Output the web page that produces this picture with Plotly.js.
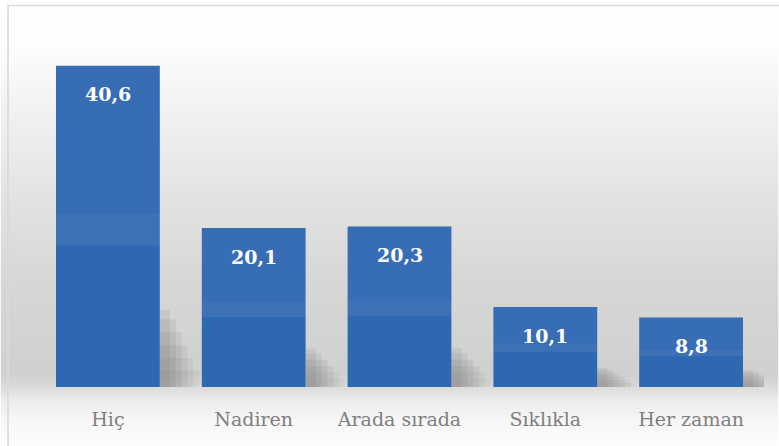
<!DOCTYPE html>
<html>
<head>
<meta charset="utf-8">
<script src="https://cdn.plot.ly/plotly-3.0.1.min.js"></script>
<style>html,body{margin:0;padding:0;background:#fff}#chart{width:779px;height:446px}</style>
</head>
<body>
<div id="chart"></div>
<script>
const categories = ['Hiç', 'Nadiren', 'Arada sırada', 'Sıklıkla', 'Her zaman'];
const values = [40.6, 20.1, 20.3, 10.1, 8.8];

const W = 779, H = 446;
const M = {l: 34.5, r: 14.5, t: 30, b: 59};
const plotW = W - M.l - M.r, plotH = H - M.t - M.b;

const barColor = '#2f68b2';
const barWidth = 0.712;
const traces = [];

// soft shadows behind the bars (layered to fake a blur)
const shadowLayers = [
  {w: 0.07, h: 0.24, c: 'rgba(90,90,90,0.11)'},
  {w: 0.11, h: 0.21, c: 'rgba(90,90,90,0.10)'},
  {w: 0.15, h: 0.17, c: 'rgba(90,90,90,0.10)'},
  {w: 0.19, h: 0.13, c: 'rgba(90,90,90,0.09)'},
  {w: 0.23, h: 0.09, c: 'rgba(90,90,90,0.07)'},
  {w: 0.27, h: 0.05, c: 'rgba(90,90,90,0.06)'}
];
shadowLayers.forEach(s => {
  traces.push({
    type: 'bar', x: categories, y: values.map(v => v * s.h),
    offset: barWidth / 2, width: s.w, marker: {color: s.c, line: {width: 0}},
    hoverinfo: 'skip', showlegend: false
  });
});

// main bars
traces.push({
  type: 'bar', x: categories, y: values, width: barWidth,
  marker: {color: barColor, line: {width: 0}},
  hoverinfo: 'x+y', showlegend: false
});
// upper lighter tint
traces.push({
  type: 'bar', x: categories, y: values.map(v => v * 0.46), base: values.map(v => v * 0.54), width: barWidth,
  marker: {color: 'rgba(255,255,255,0.04)', line: {width: 0}},
  hoverinfo: 'skip', showlegend: false
});
// reflection stripe
traces.push({
  type: 'bar', x: categories, y: values.map(v => v * 0.10), base: values.map(v => v * 0.44), width: barWidth,
  marker: {color: 'rgba(255,255,255,0.07)', line: {width: 0}},
  hoverinfo: 'skip', showlegend: false
});

const annotations = categories.map((c, i) => ({
  x: c, y: values[i], xref: 'x', yref: 'y',
  text: values[i].toFixed(1).replace('.', ','),
  showarrow: false, yshift: -28.5, yanchor: 'middle',
  font: {family: 'DejaVu Serif', size: 19, color: '#ffffff', weight: 'bold'}
}));

const bgSvg = `<svg xmlns="http://www.w3.org/2000/svg" width="${W}" height="${H}" viewBox="0 0 ${W} ${H}" preserveAspectRatio="none">
<defs><linearGradient id="g" x1="0" y1="0" x2="0" y2="1">
<stop offset="0" stop-color="#ffffff"/>
<stop offset="0.09" stop-color="#fefefe"/>
<stop offset="0.25" stop-color="#f1f1f1"/>
<stop offset="0.45" stop-color="#e2e3e1"/>
<stop offset="0.65" stop-color="#d6d7d5"/>
<stop offset="0.84" stop-color="#cfd1cf"/>
<stop offset="0.87" stop-color="#dcdcdb"/>
<stop offset="0.895" stop-color="#eaebea"/>
<stop offset="0.94" stop-color="#f6f6f6"/>
<stop offset="1" stop-color="#fdfdfd"/>
</linearGradient></defs>
<rect x="0" y="0" width="${W}" height="${H}" fill="url(#g)"/>
</svg>`;

const layout = {
  width: W, height: H,
  margin: M,
  paper_bgcolor: '#ffffff', plot_bgcolor: 'rgba(0,0,0,0)',
  barmode: 'overlay', bargap: 0.288,
  showlegend: false,
  font: {family: 'DejaVu Serif', color: '#808080'},
  xaxis: {
    type: 'category', range: [-0.5, categories.length - 0.5],
    showgrid: false, zeroline: false, showline: false,
    ticks: '', tickfont: {family: 'DejaVu Serif', size: 19, color: '#7f7f7f'},
    ticklabelstandoff: 19, fixedrange: true
  },
  yaxis: {
    range: [0, plotH / 7.91], visible: false, showgrid: false, zeroline: false, fixedrange: true
  },
  images: [{
    source: 'data:image/svg+xml;charset=utf-8,' + encodeURIComponent(bgSvg),
    xref: 'paper', yref: 'paper',
    x: -M.l / plotW, y: 1 + M.t / plotH,
    sizex: W / plotW, sizey: H / plotH,
    xanchor: 'left', yanchor: 'top', sizing: 'stretch', layer: 'below'
  }],
  shapes: [{
    type: 'rect', xref: 'paper', yref: 'paper',
    x0: (7.5 - M.l) / plotW, x1: (W + 5 - M.l) / plotW,
    y0: 1 - (H + 5 - M.t) / plotH, y1: 1 - (5.5 - M.t) / plotH,
    line: {color: '#d9d9d9', width: 1.6}, fillcolor: 'rgba(0,0,0,0)', layer: 'above'
  }],
  annotations: annotations
};

Plotly.newPlot('chart', traces, layout, {displayModeBar: false, staticPlot: true});
</script>
</body>
</html>
